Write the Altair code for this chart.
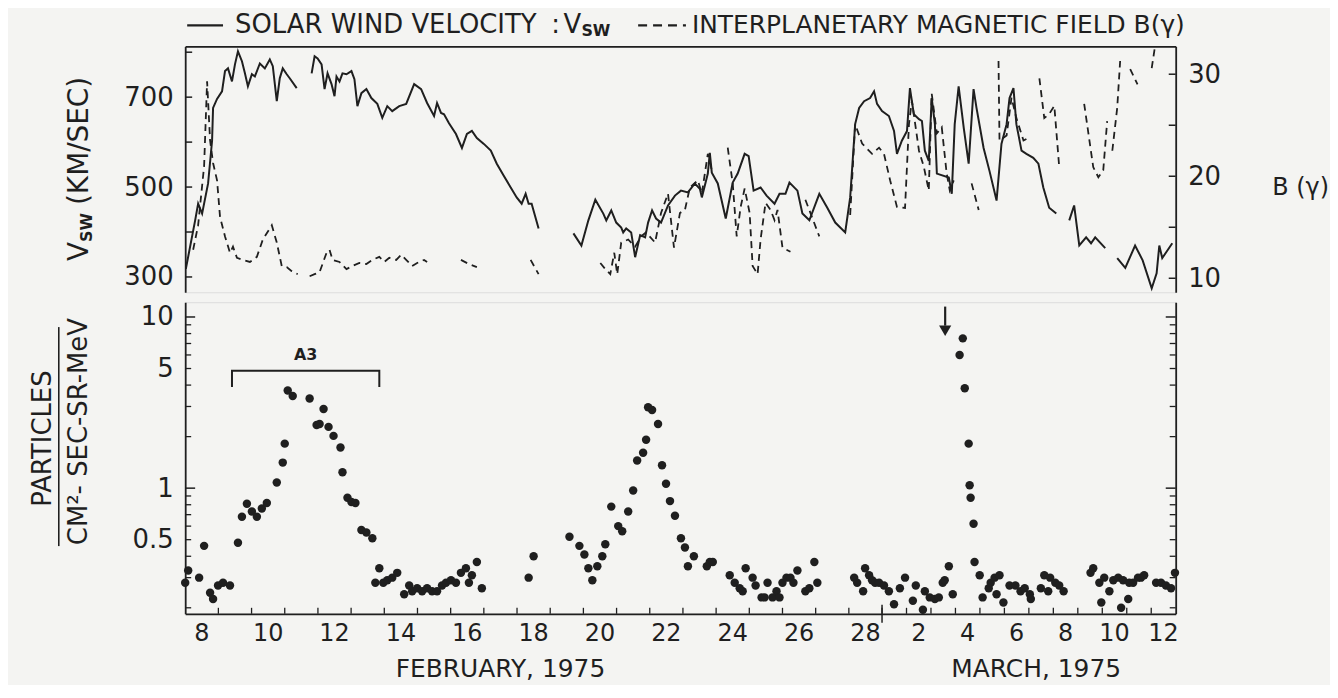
import altair as alt
import pandas as pd

FONT = "DejaVu Sans"
INK = "#1f1f1f"
BG = "#f4f4f2"

W, H_TOP, H_BOT = 995, 247, 313
# x = days since 8 Feb 1975 00 UT (21 = 1 March); the original March axis is compressed
X_DOMAIN = [0, 21, 33]
X_RANGE = [0, 700, W]

# ---------------- solar wind velocity (km/s) ----------------
vsw_day = [0.02, 0.30, 0.39, 0.51, 0.69, 0.81, 0.84, 0.96, 1.11, 1.20, 1.29, 1.41, 1.50, 1.59, 1.71, 1.80, 1.89,
           2.01, 2.10, 2.25, 2.40, 2.55, 2.64, 2.76, 2.85, 2.94, 3.06, 3.15, 3.36,
           3.81, 3.90, 3.99, 4.11, 4.20, 4.29, 4.41, 4.50, 4.56, 4.65, 4.74, 4.86, 5.01, 5.10, 5.19, 5.31, 5.46,
           5.61, 5.79, 5.94, 6.09, 6.24, 6.45, 6.66, 6.90, 7.11, 7.29, 7.50, 7.59, 7.71, 7.80, 7.95, 8.16, 8.34,
           8.49, 8.64, 8.79, 9.00, 9.21, 9.39, 9.60, 9.81, 9.99, 10.14, 10.26, 10.35, 10.44, 10.65,
           11.70, 11.94, 12.15, 12.36, 12.60, 12.69, 12.84, 12.99, 13.14, 13.20, 13.29, 13.44, 13.56, 13.71, 13.86,
           13.95, 14.07, 14.19, 14.34, 14.55, 14.76, 14.94, 15.15, 15.36, 15.51, 15.57, 15.75, 15.81, 15.87, 16.05,
           16.29, 16.50, 16.65, 16.86, 16.98, 17.13, 17.34, 17.52, 17.76, 17.91, 18.09, 18.21, 18.45, 18.60, 18.81,
           19.11, 19.35, 19.59, 19.89, 20.04, 20.19, 20.31, 20.46, 20.64, 20.76, 20.85, 21.00, 21.28, 21.49, 21.61,
           21.81, 22.02, 22.14, 22.30, 22.51, 22.63, 22.75, 22.91, 23.03, 23.16, 23.24, 23.73, 23.85, 23.97, 24.13,
           24.34, 24.54, 24.74, 24.86, 25.15, 25.39, 25.68, 25.88, 26.09, 26.21, 26.37, 26.49, 26.70, 26.90, 27.18,
           27.39, 27.59, 27.83, 28.12,
           28.65, 28.85, 29.06, 29.34, 29.54, 29.71, 30.12,
           30.61, 30.94, 31.34, 31.65, 32.02, 32.22, 32.33, 32.45, 32.66, 32.86]
vsw_kms = [318, 426, 463, 441, 508, 603, 676, 696, 713, 758, 764, 735, 773, 802, 780, 753, 724,
           751, 746, 775, 764, 784, 769, 691, 742, 764, 751, 742, 720,
           753, 791, 786, 773, 718, 753, 729, 702, 746, 735, 753, 751, 758, 740, 680, 709, 718,
           698, 685, 654, 680, 669, 680, 685, 729, 718, 687, 658, 687, 665, 662, 642, 618, 587,
           618, 625, 609, 596, 581, 552, 525, 499, 477, 463, 485, 463, 463, 408,
           397, 370, 426, 472, 441, 426, 448, 421, 410, 399, 408, 399, 344, 393, 388,
           421, 448, 430, 421, 459, 481, 492, 488, 508, 496, 477, 530, 576, 532, 508,
           430, 510, 530, 574, 569, 492, 499, 481, 463, 485, 485, 510, 492, 441, 426,
           485, 454, 421, 399, 477, 640, 676, 691, 698, 713, 685, 669, 658, 625, 574,
           603, 625, 720, 662, 651, 647, 581, 558, 698, 640, 530, 521, 485, 640, 724,
           631, 552, 718, 676, 587, 536, 470, 596, 640, 698, 720, 640, 581, 574, 565,
           552, 499, 454, 441,
           426, 459, 370, 388, 375, 388, 364,
           342, 320, 370, 337, 275, 308, 370, 342, 359, 375]
vsw_seg_starts = [0.0, 3.7, 11.5, 28.5, 30.5]

# ---------------- interplanetary magnetic field B (gamma) ----------------
imf_day = [0.24, 0.39, 0.57, 0.66, 0.75, 0.84, 0.96, 1.05, 1.20, 1.35, 1.44, 1.56, 1.74, 1.95, 2.16, 2.34, 2.61,
           2.76, 2.91, 3.06, 3.21, 3.39,
           3.75, 3.90, 4.05, 4.26, 4.35, 4.44, 4.65, 4.86, 5.04, 5.25, 5.46, 5.64, 5.85, 6.00, 6.15, 6.36, 6.51,
           6.66, 6.84, 6.99, 7.20, 7.29,
           8.31, 8.55, 8.79,
           10.41, 10.65,
           12.51, 12.66, 12.81, 12.93, 13.02, 13.14, 13.35, 13.56, 13.74, 13.89, 14.16, 14.34, 14.55, 14.73, 14.91,
           15.06, 15.21, 15.45, 15.57, 15.75, 15.87,
           16.35, 16.50, 16.62, 16.74, 16.86, 17.01, 17.10, 17.25, 17.34, 17.49, 17.64, 17.76, 17.85, 18.00, 18.24,
           18.69, 19.11,
           20.04, 20.19, 20.40, 20.70, 20.91, 21.08, 21.33, 21.61, 21.94, 22.10, 22.22, 22.51, 22.71, 22.91, 23.03,
           23.24, 23.44, 23.64, 23.77, 23.93,
           24.66, 24.95,
           25.76, 25.80, 26.09, 26.29, 26.49, 26.78, 27.02,
           27.43, 27.63, 27.83, 28.04, 28.24,
           29.26, 29.63, 29.84, 30.04, 30.20,
           30.41, 30.61, 30.73,
           31.14, 31.44,
           32.02, 32.14]
imf_gamma = [12.8, 15.2, 21.0, 29.3, 23.5, 21.3, 19.6, 16.0, 14.1, 12.5, 13.1, 12.0, 11.8, 11.6, 12.1, 13.8, 15.2,
             13.5, 11.2, 11.1, 10.7, 10.4,
             10.2, 10.4, 10.6, 12.5, 12.8, 11.8, 11.6, 10.9, 11.2, 11.5, 11.4, 11.8, 12.1, 11.6, 12.0, 11.8, 12.3,
             11.8, 11.2, 11.5, 11.8, 11.6,
             11.8, 11.4, 11.1,
             11.8, 10.4,
             11.5, 10.9, 10.4, 12.5, 10.4, 13.5, 13.8, 13.1, 14.1, 14.5, 13.5, 16.4, 18.3, 13.0, 16.4,
             16.7, 18.9, 19.6, 18.3, 22.2, 20.6,
             22.8, 19.3, 14.1, 17.0, 18.8, 16.4, 11.2, 10.4, 13.8, 17.4, 16.7, 15.7, 16.7, 13.0, 12.6,
             17.7, 14.1,
             16.2, 25.1, 23.2, 22.2, 22.8, 22.2, 19.6, 17.0, 16.9, 25.1, 27.4, 22.5, 20.9, 18.6, 28.1,
             24.2, 24.8, 20.3, 18.6, 19.6,
             19.3, 16.7,
             31.3, 23.5, 24.0, 27.7, 25.7, 23.5, 23.8,
             29.6, 25.7, 26.1, 26.9, 20.9,
             27.1, 20.9, 19.9, 20.6, 25.4,
             22.5, 26.7, 31.3,
             30.5, 29.0,
             30.6, 32.5]
imf_seg_starts = [0.2, 3.7, 8.3, 10.4, 12.5, 16.3, 18.6, 20.0, 24.6, 25.7, 27.4, 29.2, 30.4, 31.1, 32.0]

# ---------------- particle flux ----------------
flux_day = [0.00, 0.09, 0.42, 0.57, 0.75, 0.84, 0.99, 1.14, 1.35, 1.59, 1.71, 1.86, 2.01, 2.16, 2.31, 2.46, 2.76,
            2.94, 3.00, 3.09, 3.24, 3.75, 3.96, 4.05, 4.17, 4.32, 4.47, 4.68, 4.74, 4.89, 5.01, 5.13, 5.31, 5.46,
            5.64, 5.73, 5.85, 5.97, 6.09, 6.24, 6.39, 6.60, 6.75, 6.84, 6.99, 7.14, 7.29, 7.44, 7.59, 7.74, 7.86,
            8.01, 8.16, 8.31, 8.46, 8.55, 8.64, 8.79, 8.94,
            10.35, 10.50, 11.58, 11.88, 12.03, 12.15, 12.27, 12.42, 12.57, 12.66, 12.84, 13.05, 13.17, 13.35, 13.50,
            13.62, 13.80, 13.89, 13.95, 14.07, 14.25, 14.37, 14.49, 14.61, 14.76, 14.94, 15.06, 15.15, 15.33, 15.72,
            15.81, 15.90, 16.41, 16.56, 16.71, 16.80, 16.89, 17.10, 17.19, 17.37, 17.46, 17.55, 17.70, 17.82, 17.91,
            18.00, 18.12, 18.24, 18.33, 18.45, 18.69, 18.81, 18.96, 19.05,
            20.16, 20.25, 20.43, 20.49, 20.61, 20.70, 20.79, 20.91, 21.08, 21.28, 21.49, 21.73, 21.94, 22.26, 22.38,
            22.67, 22.75, 22.95, 23.16, 23.32, 23.48, 23.56, 23.73, 23.89, 24.17, 24.30, 24.38, 24.54, 24.58, 24.62,
            24.74, 24.78, 24.99, 25.11, 25.36, 25.44, 25.60, 25.68, 25.80, 25.96, 26.21, 26.45, 26.66, 26.83, 27.04,
            27.08, 27.49, 27.63, 27.79, 27.87, 28.08, 28.24, 28.42, 29.52, 29.63, 29.88, 29.96, 30.08, 30.29, 30.45,
            30.65, 30.77, 30.85, 31.06, 31.10, 31.26, 31.46, 31.58, 31.71, 32.20, 32.40, 32.60, 32.81, 32.97]
flux_val = [0.28, 0.33, 0.30, 0.46, 0.245, 0.225, 0.27, 0.28, 0.27, 0.48, 0.68, 0.81, 0.73, 0.68, 0.76, 0.82, 1.08,
            1.41, 1.82, 3.72, 3.45, 3.34, 2.34, 2.37, 2.90, 2.28, 2.02, 1.73, 1.24, 0.88, 0.83, 0.82, 0.57, 0.55,
            0.51, 0.28, 0.34, 0.28, 0.29, 0.30, 0.32, 0.24, 0.27, 0.25, 0.26, 0.25, 0.26, 0.25, 0.25, 0.27, 0.28,
            0.29, 0.28, 0.32, 0.34, 0.28, 0.31, 0.37, 0.26,
            0.30, 0.40, 0.52, 0.46, 0.41, 0.34, 0.29, 0.35, 0.40, 0.47, 0.78, 0.60, 0.56, 0.73, 0.97,
            1.45, 1.61, 1.92, 2.97, 2.86, 2.37, 1.36, 1.06, 0.84, 0.69, 0.51, 0.45, 0.35, 0.40, 0.35,
            0.37, 0.37, 0.31, 0.28, 0.26, 0.25, 0.34, 0.30, 0.27, 0.23, 0.23, 0.28, 0.23, 0.25, 0.23,
            0.28, 0.30, 0.30, 0.28, 0.33, 0.25, 0.26, 0.37, 0.28,
            0.30, 0.28, 0.25, 0.34, 0.31, 0.29, 0.28, 0.28, 0.27, 0.25, 0.21, 0.26, 0.30, 0.22, 0.27,
            0.195, 0.25, 0.23, 0.225, 0.23, 0.28, 0.29, 0.35, 0.24, 6.0, 7.5, 3.83, 1.82, 1.04, 0.88,
            0.62, 0.37, 0.31, 0.23, 0.26, 0.28, 0.30, 0.24, 0.31, 0.215, 0.27, 0.27, 0.25, 0.26, 0.24,
            0.225, 0.26, 0.31, 0.25, 0.30, 0.28, 0.27, 0.25, 0.32, 0.34, 0.28, 0.215, 0.30, 0.25, 0.29,
            0.30, 0.20, 0.29, 0.225, 0.28, 0.28, 0.30, 0.30, 0.31, 0.28, 0.28, 0.27, 0.26, 0.32]

# axis values and tick labels
v_label_vals = [300, 500, 700]
v_tick_vals = [300, 400, 500, 600, 700, 800]
b_label_vals = [10, 20, 30]
b_tick_vals = [10, 15, 20, 25, 30]
f_label_vals = [0.5, 1, 5, 10]
f_minor_vals = [0.2, 0.3, 0.4, 0.5, 0.6, 0.7, 0.8, 0.9, 2, 3, 4, 5, 6, 7, 8, 9]
f_major_vals = [1, 10]
day_bounds = list(range(1, 33))
xlab_pos = [0.5, 2.5, 4.5, 6.5, 8.5, 10.5, 12.5, 14.5, 16.5, 18.5, 20.5, 22.5, 24.5, 26.5, 28.5, 30.5, 32.5]
xlab_text = ["8", "10", "12", "14", "16", "18", "20", "22", "24", "26", "28", "2", "4", "6", "8", "10", "12"]
month_pos = [9.5, 27.3]
month_text = ["FEBRUARY, 1975", "MARCH, 1975"]
a3_day = [1.41, 1.41, 5.85, 5.85]
a3_flux = [3.9, 4.85, 4.85, 3.9]
arrow_day = [23.58]
arrow_top, arrow_bot, arrow_head = [11.5], [8.9], [8.3]


def seg_ids(days, starts):
    return [sum(1 for s in starts if d >= s) for d in days]


vdf = pd.DataFrame({"day": vsw_day, "kms": vsw_kms, "seg": seg_ids(vsw_day, vsw_seg_starts)})
bdf = pd.DataFrame({"day": imf_day, "gamma": imf_gamma, "seg": seg_ids(imf_day, imf_seg_starts)})
fdf = pd.DataFrame({"day": flux_day, "flux": flux_val})

xscale = alt.Scale(domain=X_DOMAIN, range=X_RANGE, nice=False, zero=False)
vscale = alt.Scale(domain=[266, 813], nice=False, zero=False)
bscale = alt.Scale(domain=[8.63, 32.73], nice=False, zero=False)
fscale = alt.Scale(type="log", domain=[0.1845, 12.2], nice=False)

AX_TOP = alt.Axis(orient="top", labels=False, ticks=False, title=None, grid=False,
                  domainColor=INK, domainWidth=1.8)
AX_BOT = alt.Axis(orient="bottom", labels=False, ticks=False, title=None, grid=False,
                  domainColor=INK, domainWidth=1.8)


def yaxis(orient, values=None, labels=True, fmt=None):
    kw = dict(orient=orient, ticks=False, title=None, grid=False, domainColor=INK, domainWidth=1.8,
              labels=labels, labelFont=FONT, labelFontSize=26, labelColor=INK, labelPadding=12)
    if values is not None:
        kw["values"] = values
    if fmt is not None:
        kw["labelExpr"] = fmt
    return alt.Axis(**kw)


V_AXIS = yaxis("left", v_label_vals)
B_AXIS = yaxis("right", b_label_vals)
F_AXIS = yaxis("left", f_label_vals, fmt="datum.value < 1 ? format(datum.value, '.1f') : format(datum.value, 'd')")
F_AXIS_R = yaxis("right", labels=False)


def note(text, x, y, size, angle=0, align="center", weight="normal"):
    return alt.Chart(pd.DataFrame({"t": [text]})).mark_text(
        font=FONT, fontSize=size, angle=angle, align=align, baseline="middle", color=INK, fontWeight=weight
    ).encode(x=alt.value(x), y=alt.value(y), text="t:N")


def hline(x1, x2, y, dash=None, width=2.2):
    kw = dict(color=INK, strokeWidth=width)
    if dash:
        kw["strokeDash"] = dash
    return alt.Chart(pd.DataFrame({"a": [0]})).mark_rule(**kw).encode(
        x=alt.value(x1), x2=alt.value(x2), y=alt.value(y))


def vline(x, y1, y2, width=1.6):
    return alt.Chart(pd.DataFrame({"a": [0]})).mark_rule(color=INK, strokeWidth=width).encode(
        x=alt.value(x), y=alt.value(y1), y2=alt.value(y2))


# ---------------- top panel ----------------
v_line = alt.Chart(vdf).mark_line(color=INK, strokeWidth=2, clip=True).encode(
    x=alt.X("day:Q", scale=xscale, axis=AX_TOP),
    y=alt.Y("kms:Q", scale=vscale, axis=V_AXIS),
    detail="seg:N")
v_ticks = alt.Chart(pd.DataFrame({"kms": v_tick_vals})).mark_rule(color=INK, strokeWidth=1.5).encode(
    y=alt.Y("kms:Q", scale=vscale, axis=V_AXIS), x=alt.value(0), x2=alt.value(7))
b_line = alt.Chart(bdf).mark_line(color=INK, strokeWidth=1.8, strokeDash=[7, 5], clip=True).encode(
    x=alt.X("day:Q", scale=xscale, axis=AX_TOP),
    y=alt.Y("gamma:Q", scale=bscale, axis=B_AXIS),
    detail="seg:N")
b_ticks = alt.Chart(pd.DataFrame({"gamma": b_tick_vals})).mark_rule(color=INK, strokeWidth=1.5).encode(
    y=alt.Y("gamma:Q", scale=bscale, axis=B_AXIS), x=alt.value(W - 7), x2=alt.value(W))

top = alt.layer(
    alt.layer(v_line, v_ticks),
    alt.layer(b_line, b_ticks),
    hline(2, 38, -21),
    note("SOLAR WIND VELOCITY", 50, -21, 26, align="left"),
    note(":", 372, -21, 26),
    note("V", 380, -21, 26, align="left"),
    note("SW", 398, -15, 16, align="left", weight="bold"),
    hline(455, 503, -21, dash=[9, 6]),
    note("INTERPLANETARY MAGNETIC FIELD B(γ)", 509, -21, 25, align="left"),
    note("(KM/SEC)", -106, 95, 28, angle=270),
    note("V", -106, 206, 28, angle=270),
    note("SW", -99, 182, 16, angle=270, weight="bold"),
    note("B (γ)", 1092, 142, 24, align="left"),
).resolve_scale(y="independent").properties(width=W, height=H_TOP)

# ---------------- bottom panel ----------------
X_B = lambda f: alt.X(f, scale=xscale, axis=AX_BOT)
Y_F = lambda f: alt.Y(f, scale=fscale, axis=F_AXIS)

pts = alt.Chart(fdf).mark_circle(size=72, color=INK, opacity=1).encode(x=X_B("day:Q"), y=Y_F("flux:Q"))
f_minor = alt.Chart(pd.DataFrame({"flux": f_minor_vals})).mark_rule(color=INK, strokeWidth=1.3).encode(
    y=Y_F("flux:Q"), x=alt.value(0), x2=alt.value(6))
f_major = alt.Chart(pd.DataFrame({"flux": f_major_vals})).mark_rule(color=INK, strokeWidth=1.5).encode(
    y=Y_F("flux:Q"), x=alt.value(0), x2=alt.value(10))
bracket = alt.Chart(pd.DataFrame({"day": a3_day, "flux": a3_flux, "i": [0, 1, 2, 3]})).mark_line(
    color=INK, strokeWidth=2).encode(x=X_B("day:Q"), y=Y_F("flux:Q"), order="i:Q")
a3 = alt.Chart(pd.DataFrame({"day": [3.63], "flux": [6.0], "t": ["A3"]})).mark_text(
    font=FONT, fontSize=16, fontWeight="bold", color=INK).encode(x=X_B("day:Q"), y=Y_F("flux:Q"), text="t:N")
arrow = alt.Chart(pd.DataFrame({"day": arrow_day, "flux": arrow_top, "f2": arrow_bot})).mark_rule(
    color=INK, strokeWidth=2.2).encode(x=X_B("day:Q"), y=Y_F("flux:Q"), y2="f2:Q")
arrow_tip = alt.Chart(pd.DataFrame({"day": arrow_day, "flux": arrow_head})).mark_point(
    shape="triangle-down", filled=True, size=150, color=INK, opacity=1).encode(x=X_B("day:Q"), y=Y_F("flux:Q"))
x_ticks = alt.Chart(pd.DataFrame({"day": day_bounds})).mark_rule(color=INK, strokeWidth=1.3).encode(
    x=X_B("day:Q"), y=alt.value(H_BOT - 6), y2=alt.value(H_BOT))
mar_tick = alt.Chart(pd.DataFrame({"day": [21]})).mark_rule(color=INK, strokeWidth=1.5).encode(
    x=X_B("day:Q"), y=alt.value(H_BOT - 9), y2=alt.value(H_BOT + 9))
x_labels = alt.Chart(pd.DataFrame({"day": xlab_pos, "t": xlab_text})).mark_text(
    font=FONT, fontSize=24, color=INK, baseline="middle").encode(x=X_B("day:Q"), y=alt.value(H_BOT + 20), text="t:N")
months = alt.Chart(pd.DataFrame({"day": month_pos, "t": month_text})).mark_text(
    font=FONT, fontSize=25, color=INK, baseline="middle").encode(x=X_B("day:Q"), y=alt.value(H_BOT + 56), text="t:N")

Y_FR = lambda f: alt.Y(f, scale=fscale, axis=F_AXIS_R)
fr_minor = alt.Chart(pd.DataFrame({"flux": f_minor_vals})).mark_rule(color=INK, strokeWidth=1.3).encode(
    y=Y_FR("flux:Q"), x=alt.value(W - 6), x2=alt.value(W))
fr_major = alt.Chart(pd.DataFrame({"flux": f_major_vals})).mark_rule(color=INK, strokeWidth=1.5).encode(
    y=Y_FR("flux:Q"), x=alt.value(W - 10), x2=alt.value(W))

bottom = alt.layer(
    alt.layer(pts, f_minor, f_major, bracket, a3, arrow, arrow_tip, x_ticks, mar_tick, x_labels, months),
    alt.layer(fr_minor, fr_major),
    note("PARTICLES", -143, 137, 26, angle=270),
    vline(-127, 25, 245),
    note("CM²- SEC-SR-MeV", -107, 130, 26, angle=270),
).resolve_scale(y="independent").properties(width=W, height=H_BOT)

chart = alt.vconcat(top, bottom, spacing=8).properties(
    padding={"left": 21, "top": 2, "right": 0, "bottom": 0}, background=BG
).configure_view(stroke=None).configure(font=FONT)

chart.save("out.html", embed_options={"renderer": "svg", "actions": False})
